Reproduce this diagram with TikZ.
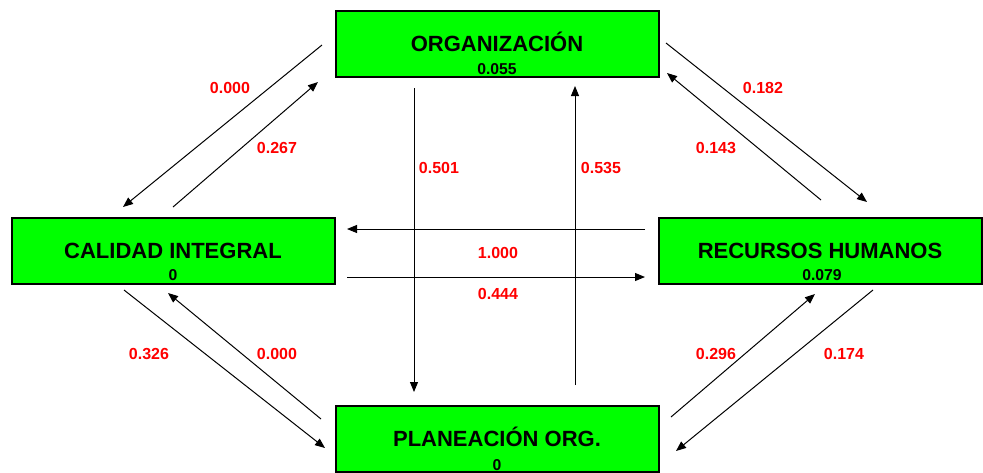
\documentclass[tikz,border=0pt]{standalone}
\usepackage{fontspec}
\setmainfont{Liberation Sans}
\usetikzlibrary{arrows.meta}
\definecolor{areagreen}{RGB}{0,255,0}
\definecolor{weightred}{RGB}{255,0,0}
\tikzset{
		area/.style={draw,line width=1.5pt,fill=areagreen,minimum width=242.25pt,minimum height=49.5pt,
			inner sep=0pt,text height=11.8pt,text depth=0pt,font=\fontsize{16.5}{18}\selectfont\bfseries},
		score/.style={inner sep=0pt,text height=8.4pt,text depth=0pt,font=\fontsize{11.8}{13}\selectfont\bfseries},
		weight/.style={inner sep=0pt,text height=8.6pt,text depth=0pt,text=weightred,font=\fontsize{12}{14}\selectfont\bfseries},
		every edge/.style={draw,line width=0.75pt}
	}
\begin{document}
\begin{tikzpicture}[x=0.75pt,y=-0.75pt,>={Triangle[length=7.5pt,width=6pt]}]
				\useasboundingbox (0,0) rectangle (983,472);

				\node[area] (org) at (497,44)    {ORGANIZACIÓN};
				\node[area] (cal) at (173,250.5) {CALIDAD INTEGRAL};
				\node[area] (rec) at (820,250.5) {RECURSOS HUMANOS};
				\node[area] (pla) at (497,439)   {PLANEACIÓN ORG.};

				\node[score] (orgv) at ([shift={(0,25)}]org.center) {0.055};
				\node[score] (calv) at ([shift={(0,24)}]cal.center) {0};
				\node[score] (recv) at ([shift={(2,24)}]rec.center) {0.079};
				\node[score] (plav) at ([shift={(0,26)}]pla.center) {0};

				% ends of the arrows
				\coordinate (oc1) at (322,45);  \coordinate (oc2) at (123,207);
				\coordinate (co1) at (173,207); \coordinate (co2) at (318,82);
				\coordinate (or1) at (666,43);  \coordinate (or2) at (867,202);
				\coordinate (ro1) at (821,200); \coordinate (ro2) at (667,73);
				\coordinate (op1) at (414,88);  \coordinate (op2) at (414,392);
				\coordinate (po1) at (575,385); \coordinate (po2) at (575,86);
				\coordinate (rc1) at (645,229); \coordinate (rc2) at (347,229);
				\coordinate (cr1) at (347,277); \coordinate (cr2) at (645,277);
				\coordinate (cp1) at (124,290); \coordinate (cp2) at (325,448);
				\coordinate (pc1) at (321,419); \coordinate (pc2) at (168,293);
				\coordinate (pr1) at (671,417); \coordinate (pr2) at (815,294);
				\coordinate (rp1) at (873,290); \coordinate (rp2) at (676,451);

				\path[->](oc1) edge (oc2);
				\path[->](co1) edge (co2);
				\path[->](or1) edge (or2);
				\path[->](ro1) edge (ro2);
				\path[->](op1) edge (op2);
				\path[->](po1) edge (po2);
				\path[->](rc1) edge (rc2);
				\path[->](cr1) edge (cr2);
				\path[->](cp1) edge (cp2);
				\path[->](pc1) edge (pc2);
				\path[->](pr1) edge (pr2);
				\path[->](rp1) edge (rp2);

				\node[weight] (woc) at (230,88)  {0.000};
				\node[weight] (wco) at (277,148) {0.267};
				\node[weight] (wor) at (763,88)  {0.182};
				\node[weight] (wro) at (716,148) {0.143};
				\node[weight] (wop) at (439,168) {0.501};
				\node[weight] (wpo) at (601,168) {0.535};
				\node[weight] (wrc) at (498,253) {1.000};
				\node[weight] (wcr) at (498,294) {0.444};
				\node[weight] (wcp) at (149,354) {0.326};
				\node[weight] (wpc) at (277,354) {0.000};
				\node[weight] (wpr) at (716,354) {0.296};
				\node[weight] (wrp) at (844,354) {0.174};
			\end{tikzpicture}
\end{document}
